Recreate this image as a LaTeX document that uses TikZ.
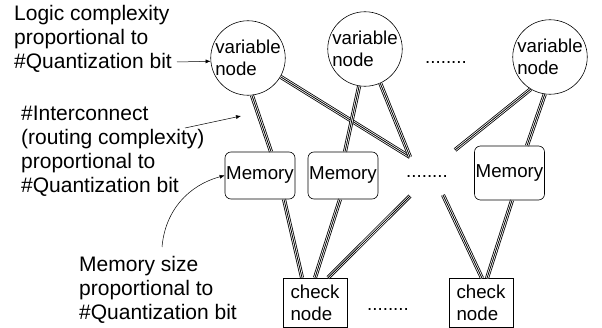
\documentclass[tikz,border=0pt]{standalone}
\usepackage{fontspec}
\setmainfont{Liberation Sans}
\usetikzlibrary{arrows.meta}
\begin{document}
\begin{tikzpicture}[x=1pt,y=-1pt,
  vnode/.style={draw, circle, line width=0.6pt, minimum size=74pt, inner sep=0pt, align=left, font=\fontsize{18.7}{22}\selectfont},
  mem/.style={draw, rounded corners=6pt, line width=0.6pt, minimum width=70pt, minimum height=47pt, inner sep=0pt, font=\fontsize{18.7}{22}\selectfont},
  chk/.style={draw, line width=0.6pt, minimum width=64pt, minimum height=49pt, inner sep=0pt, align=left, font=\fontsize{18.7}{22}\selectfont},
  dots/.style={inner sep=0pt, font=\fontsize{18.7}{22}\selectfont},
  anno/.style={inner sep=0pt, align=left, anchor=west, font=\fontsize{21}{24}\selectfont},
  tri/.style={draw=white, line width=2.4pt, preaction={draw=black, line width=4pt}, postaction={draw=black, line width=0.8pt}},
  arr/.style={draw, line width=0.5pt, -{Latex[length=5pt,width=4pt]}}
]
\useasboundingbox (0,0) rectangle (602,328);
% variable nodes
\node[vnode] (v1) at (248,58) {variable\\node};
\node[vnode] (v2) at (365,49) {variable\\node};
\node[vnode] (v3) at (550,57) {variable\\node};
\node[dots] (d1) at (446,63) {........};
% memories
\node[mem] (m1) at (260,175.5) {Memory};
\node[mem] (m2) at (343,175.5) {Memory};
\node[mem, minimum height=54pt] (m3) at (509.5,173) {Memory};
\node[dots] (d2) at (427,177) {........};
% check nodes
\node[chk] (c1) at (315,302.5) {check\\node};
\node[chk] (c2) at (481,303) {check\\node};
\node[dots] (d3) at (388,310) {........};
% free ends
\coordinate (j1) at (410,157);
\coordinate (j2) at (455,150);
\coordinate (j3) at (410,196);
\coordinate (j4) at (443,195);
% interconnects
\path[tri] (v1.-84) -- ([xshift=11pt]m1.north);
\path[tri] (v1.-30) -- (j1);
\path[tri] (v2.-99) -- ([xshift=2pt]m2.north);
\path[tri] (v2.-66) -- (j1);
\path[tri] (v3.-121) -- (j2);
\path[tri] (v3.-98) -- ([xshift=17.5pt]m3.north);
\path[tri] ([xshift=24pt]m1.south) -- ([xshift=-13pt]c1.north);
\path[tri] ([xshift=-3pt]m2.south) -- (c1.north);
\path[tri] (j3) -- ([xshift=13pt]c1.north);
\path[tri] (j4) -- ([xshift=1pt]c2.north);
\path[tri] ([xshift=2.5pt]m3.south) -- ([xshift=6pt]c2.north);
% annotations
\node[anno] (t1) at (14,38.5) {Logic complexity\\proportional to\\\#Quantization bit};
\node[anno] (t2) at (21,151) {\#Interconnect\\(routing complexity)\\proportional to\\\#Quantization bit};
\node[anno] (t3) at (79,290) {Memory size\\proportional to\\\#Quantization bit};
\coordinate (a1) at (177,62);
\coordinate (a2s) at (185,128);
\coordinate (a2e) at (241,116);
\coordinate (a3) at (162,247);
\draw[arr] (a1) -- (v1.185);
\draw[arr] (a2s) -- (a2e);
\draw[arr] (a3) to[out=85,in=195] (m1.west);
\end{tikzpicture}
\end{document}
